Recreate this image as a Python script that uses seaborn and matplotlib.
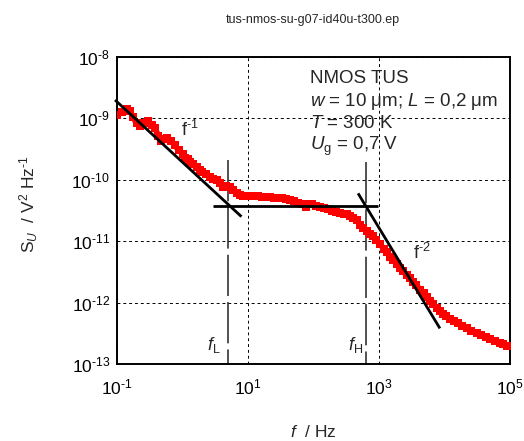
import numpy as np
import pandas as pd
import matplotlib
matplotlib.use("Agg")
import matplotlib.pyplot as plt
import seaborn as sns
from matplotlib.ticker import NullLocator

# ---- data (log10 values) ----
freq_exp = [-1.00, -0.93, -0.85, -0.80, -0.76, -0.70, -0.65, -0.58, -0.52, -0.47,
            -0.42, -0.37, -0.33, -0.28, -0.23, -0.17, -0.12, -0.06, 0.00, 0.04,
            0.08, 0.11, 0.16, 0.22, 0.26, 0.30, 0.36, 0.42, 0.47, 0.52,
            0.57, 0.62, 0.67, 0.72, 0.77, 0.83, 0.88, 0.93, 0.98, 1.03,
            1.10, 1.16, 1.22, 1.28, 1.34, 1.40, 1.46, 1.52, 1.58, 1.64,
            1.70, 1.76, 1.82, 1.88, 1.93, 1.98, 2.04, 2.10, 2.16, 2.22,
            2.28, 2.34, 2.40, 2.46, 2.51, 2.56, 2.61, 2.66, 2.71, 2.76,
            2.81, 2.86, 2.91, 2.96, 3.02, 3.07, 3.12, 3.17, 3.22, 3.27,
            3.32, 3.37, 3.42, 3.47, 3.52, 3.57, 3.63, 3.68, 3.73, 3.78,
            3.83, 3.88, 3.93, 3.98, 4.03, 4.08, 4.14, 4.20, 4.27, 4.34,
            4.41, 4.49, 4.56, 4.63, 4.70, 4.77, 4.84, 4.90, 4.96]
su_exp = [-8.95, -8.90, -8.84, -8.88, -8.97, -9.08, -9.12, -9.07, -9.05, -9.10,
          -9.16, -9.28, -9.37, -9.33, -9.32, -9.36, -9.44, -9.51, -9.58, -9.65,
          -9.66, -9.71, -9.74, -9.79, -9.84, -9.87, -9.90, -9.95, -9.98, -10.01,
          -10.06, -10.11, -10.10, -10.12, -10.17, -10.22, -10.24, -10.26, -10.27, -10.26,
          -10.27, -10.26, -10.28, -10.28, -10.28, -10.29, -10.29, -10.30, -10.31, -10.33,
          -10.35, -10.37, -10.40, -10.44, -10.40, -10.39, -10.43, -10.44, -10.46, -10.48,
          -10.50, -10.52, -10.54, -10.55, -10.56, -10.59, -10.63, -10.66, -10.73, -10.79,
          -10.84, -10.88, -10.92, -10.98, -11.05, -11.12, -11.18, -11.25, -11.31, -11.37,
          -11.43, -11.49, -11.55, -11.60, -11.66, -11.72, -11.79, -11.85, -11.91, -11.97,
          -12.03, -12.08, -12.13, -12.18, -12.22, -12.26, -12.30, -12.34, -12.38, -12.42,
          -12.46, -12.50, -12.53, -12.56, -12.59, -12.62, -12.65, -12.67, -12.70]

# guide lines (log10 endpoints)
slope1_f = [-1.03, 0.90]
slope1_s = [-8.70, -10.60]
plateau_f = [0.47, 2.99]
plateau_s = [-10.42, -10.42]
slope2_f = [2.68, 3.93]
slope2_s = [-10.22, -12.42]
corner_f = [0.69, 2.80]
corner_top = [-9.68, -9.71]

xticks = [1e-1, 1e1, 1e3, 1e5]
xtick_labels = [r"$10^{\text{-}1}$", r"$10^{1}$", r"$10^{3}$", r"$10^{5}$"]
yticks = [1e-13, 1e-12, 1e-11, 1e-10, 1e-9, 1e-8]
ytick_labels = [r"$10^{\text{-}13}$", r"$10^{\text{-}12}$", r"$10^{\text{-}11}$",
                r"$10^{\text{-}10}$", r"$10^{\text{-}9}$", r"$10^{\text{-}8}$"]

info_lines = ["NMOS TUS",
              r"$w$ = 10 μm; $L$ = 0,2 μm",
              r"$T$ = 300 K",
              r"$U_\mathrm{g}$ = 0,7 V"]
title = "tus-nmos-su-g07-id40u-t300.ep"

# ---- style ----
sns.set_theme(style="white")
plt.rcParams["font.family"] = ["Liberation Sans", "DejaVu Sans"]
plt.rcParams["mathtext.fontset"] = "custom"
plt.rcParams["mathtext.rm"] = "Liberation Sans"
plt.rcParams["mathtext.it"] = "Liberation Sans:italic"
plt.rcParams["mathtext.bf"] = "Liberation Sans:bold"
plt.rcParams["mathtext.default"] = "it"

fig = plt.figure(figsize=(5.24, 4.41), dpi=100)
ax = fig.add_axes([0.2233, 0.1746, 0.75, 0.6961])

df = pd.DataFrame({"f": np.power(10.0, freq_exp), "S": np.power(10.0, su_exp)})
sns.lineplot(data=df, x="f", y="S", ax=ax, color="#ff0000", lw=4.2,
             marker="s", markersize=5.6, markeredgewidth=0, sort=False,
             estimator=None, zorder=3)

ax.set_xscale("log")
ax.set_yscale("log")
ax.set_xlim(1e-1, 1e5)
ax.set_ylim(1e-13, 1e-8)

for fx, sy in [(slope1_f, slope1_s), (plateau_f, plateau_s), (slope2_f, slope2_s)]:
    ax.plot(np.power(10.0, fx), np.power(10.0, sy), color="black", lw=2.0,
            zorder=4, clip_on=False, solid_capstyle="butt")

for fx, top in zip(corner_f, corner_top):
    ax.plot([10 ** fx, 10 ** fx], [10 ** top, 1e-13], color="#222222", lw=1.1,
            dashes=(27, 4), zorder=2)

ax.set_xticks(xticks)
ax.set_xticklabels(xtick_labels)
ax.set_yticks(yticks)
ax.set_yticklabels(ytick_labels)
ax.xaxis.set_minor_locator(NullLocator())
ax.yaxis.set_minor_locator(NullLocator())
ax.tick_params(axis="both", length=0, labelsize=12.5, colors="black")
ax.tick_params(axis="x", pad=10)
ax.tick_params(axis="y", pad=5)

ax.grid(True, which="major", color="black", lw=0.7, ls=(0, (3, 3)))
ax.set_axisbelow(True)
for sp in ax.spines.values():
    sp.set_color("black")
    sp.set_linewidth(1.4)
ax.set_facecolor("white")

ax.set_xlabel("")
ax.set_ylabel("")
ax.text(0.5, -0.221, r"$f$  / Hz", transform=ax.transAxes, ha="center",
        va="center", fontsize=12.5)
ax.text(-0.225, 0.52, r"S$_{U}$  / V$^{2}$ Hz$^{\text{-}1}$", transform=ax.transAxes,
        ha="center", va="center", rotation=90, fontsize=12.5)

# info block
for i, line in enumerate(info_lines):
    ax.text(0.491, [0.915, 0.840, 0.769, 0.697][i], line, transform=ax.transAxes,
            ha="left", va="baseline", fontsize=13.5)

# slope labels
ax.text(10 ** -0.02, 10 ** -9.35, r"f$^{\text{-}1}$", ha="left", va="bottom", fontsize=13)
ax.text(10 ** 3.52, 10 ** -11.36, r"f$^{\text{-}2}$", ha="left", va="bottom", fontsize=13)
ax.text(10 ** 0.37, 10 ** -12.85, r"$f_\mathrm{L}$", ha="left", va="bottom", fontsize=13)
ax.text(10 ** 2.53, 10 ** -12.85, r"$f_\mathrm{H}$", ha="left", va="bottom", fontsize=13)

fig.text(0.597, 0.955, title, ha="center", va="center", fontsize=9)

fig.savefig("out.png", dpi=100, facecolor="white")
